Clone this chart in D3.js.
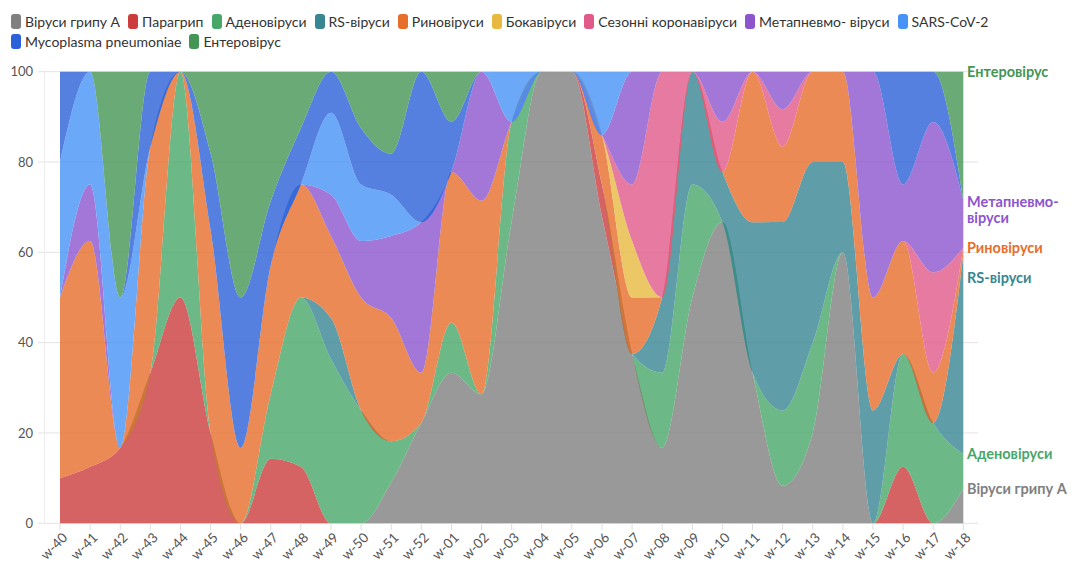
<!DOCTYPE html>
<html>
<head>
<meta charset="utf-8">
<script src="https://cdn.jsdelivr.net/npm/d3@7"></script>
<style>
  body { margin: 0; background: #fff; font-family: Lato, "Noto Sans", sans-serif; }
  #legend { position: absolute; left: 11px; top: 11px; width: 1040px; display: flex; flex-wrap: wrap; }
  .item { display: flex; align-items: center; margin-right: 8px; height: 20px; font-size: 14px; color: #333; }
  .swatch { width: 10px; height: 15px; border-radius: 3px; margin-right: 4px; }
  svg { position: absolute; left: 0; top: 0; }
</style>
</head>
<body>
<div id="legend"></div>
<svg id="chart" width="1072" height="562"></svg>
<script>
// weeks on the x axis
const weeks = ["w-40","w-41","w-42","w-43","w-44","w-45","w-46","w-47","w-48","w-49","w-50","w-51","w-52",
  "w-01","w-02","w-03","w-04","w-05","w-06","w-07","w-08","w-09","w-10","w-11","w-12","w-13","w-14","w-15","w-16","w-17","w-18"];

// share of positive samples per week, %
const fluA    = [0,0,0,0,0,0,0,0,0,0,0,9.1,22.2,33.3,28.6,66.7,100,100,68,37.5,16.7,50,66.7,33.3,8.3,20,60,0,0,0,7.7];
const para    = [10,12.5,16.7,33.3,50,20,0,14.3,12.5,0,0,0,0,0,0,0,0,0,7,0,0,0,0,0,0,0,0,0,12.5,0,0];
const adeno   = [0,0,0,0,50,0,0,14.3,37.5,36.4,25,9.1,0,11.1,0,22.2,0,0,0,0,16.7,25,0,0,16.7,20,0,0,25,22.2,7.7];
const rsv     = [0,0,0,0,0,0,0,0,0,9.1,0,0,0,0,0,0,0,0,0,0,16.7,25,11.1,33.3,41.7,40,20,25,0,0,44.3];
const rhino   = [40,50,0,50,0,45,16.7,28.6,25,18.2,25,27.3,11.1,33.3,42.9,0,0,0,11,12.5,0,0,0,33.3,16.7,20,20,25,25,11.1,1.5];
const boca    = [0,0,0,0,0,0,0,0,0,0,0,0,0,0,0,0,0,0,0,12.5,0,0,0,0,0,0,0,0,0,0,0];
const corona  = [0,0,0,0,0,0,0,0,0,0,0,0,0,0,0,0,0,0,0,12.5,50,0,11.1,0,8.3,0,0,0,0,22.2,0];
const meta    = [0,12.5,0,0,0,0,0,0,0,9.1,12.5,18.2,33.3,0,28.6,0,0,0,0,25,0,0,11.1,0,8.3,0,0,50,12.5,33.3,10.5];
const sars    = [30,25,33.3,0,0,0,0,0,0,18.2,12.5,9.1,0,0,0,11.1,0,0,14,0,0,0,0,0,0,0,0,0,0,0,0];
const myco    = [20,0,0,16.7,0,17,33.3,14.3,12.5,9.1,12.5,9.1,33.3,11.1,0,0,0,0,0,0,0,0,0,0,0,0,0,0,25,11.1,0];
const entero  = [0,0,50,0,0,18,50,28.6,12.5,0,12.5,18.2,0,11.1,0,0,0,0,0,0,0,0,0,0,0,0,0,0,0,0,28.5];

const seriesNames = ["Віруси грипу А","Парагрип","Аденовіруси","RS-віруси","Риновіруси","Бокавіруси",
  "Сезонні коронавіруси","Метапневмо- віруси","SARS-CoV-2","Mycoplasma pneumoniae","Ентеровірус"];
const seriesValues = [fluA, para, adeno, rsv, rhino, boca, corona, meta, sars, myco, entero];
const colors = ["#808080","#cc3c3c","#48a669","#378692","#e66d2a","#e7b940","#e15989","#8c55ce","#4692f6","#2a60d8","#459555"];
const yTicks = [0, 20, 40, 60, 80, 100];

const keys = seriesNames;
const rows = weeks.map((w, i) => {
  const r = { week: w };
  keys.forEach((k, j) => r[k] = seriesValues[j][i]);
  return r;
});

const color = d3.scaleOrdinal().domain(keys).range(colors);

// legend
const legend = d3.select('#legend');
const items = legend.selectAll('.item').data(keys).enter()
  .append('div').attr('class', 'item');
items.append('div').attr('class', 'swatch').style('background', d => color(d));
items.append('span').text(d => d);

// chart
const svg = d3.select('#chart');
const x = d3.scalePoint().domain(weeks).range([60, 963.3]);
const y = d3.scaleLinear().domain([0, 1]).range([523.3, 71.7]);

const stack = d3.stack().keys(keys).offset(d3.stackOffsetExpand);
const layers = stack(rows);

// grid
svg.append('g').selectAll('line')
  .data(yTicks).enter().append('line')
  .attr('x1', 38).attr('x2', 978)
  .attr('y1', d => y(d / 100)).attr('y2', d => y(d / 100))
  .attr('stroke', '#e3e3e3').attr('stroke-width', 1);
svg.append('line')
  .attr('x1', 44.5).attr('x2', 44.5).attr('y1', y(1)).attr('y2', y(0))
  .attr('stroke', '#ececec');

svg.append('g').selectAll('text')
  .data(yTicks).enter().append('text')
  .attr('x', 33).attr('y', d => y(d / 100))
  .attr('dy', '0.35em')
  .attr('text-anchor', 'end')
  .attr('font-size', 13).attr('fill', '#555')
  .text(d => d);

// areas
const area = d3.area()
  .x(d => x(d.data.week))
  .y0(d => y(d[0]))
  .y1(d => y(d[1]))
  .curve(d3.curveMonotoneX);

svg.append('g').selectAll('path')
  .data(layers).enter().append('path')
  .attr('d', area)
  .attr('fill', d => color(d.key))
  .attr('fill-opacity', 0.8);

// x axis
const xg = svg.append('g');
xg.selectAll('line').data(weeks).enter().append('line')
  .attr('x1', d => x(d)).attr('x2', d => x(d))
  .attr('y1', 523.3).attr('y2', 530)
  .attr('stroke', '#ddd');
xg.selectAll('text').data(weeks).enter().append('text')
  .attr('transform', d => `translate(${x(d) + 5},${535}) rotate(-45)`)
  .attr('text-anchor', 'end')
  .attr('dy', '0.35em')
  .attr('font-size', 13.5).attr('fill', '#555')
  .text(d => d);

// direct labels at the last week
const last = weeks.length - 1;
let labels = layers
  .filter(l => l[last][1] - l[last][0] > 0.001)
  .map(l => ({ key: l.key, y: y(l[last][1]), lines: l.key.split('- ').map((s, i, a) => i < a.length - 1 ? s + '-' : s) }))
  .sort((a, b) => a.y - b.y);
let prev = -Infinity;
labels.forEach(l => {
  l.y = Math.max(l.y + (l.lines.length - 1) * 2, prev + 30);
  prev = l.y;
});
const lg = svg.append('g');
labels.forEach(l => {
  l.lines.forEach((s, i) => {
    lg.append('text')
      .attr('x', 967).attr('y', l.y + i * 16)
      .attr('dy', '0.35em')
      .attr('font-size', 14.5).attr('font-weight', 700)
      .attr('fill', color(l.key))
      .text(s);
  });
});
</script>
</body>
</html>
